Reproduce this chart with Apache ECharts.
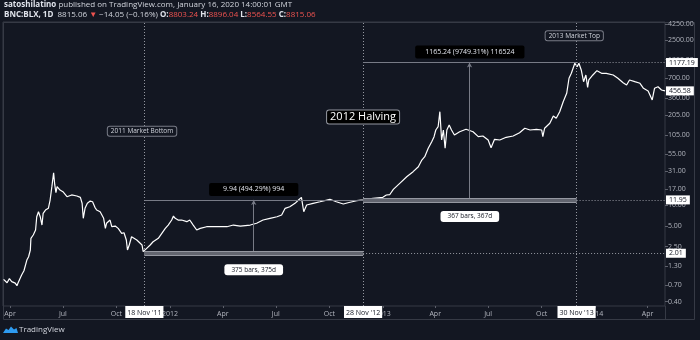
<!DOCTYPE html>
<html><head><meta charset="utf-8">
<script src="https://cdn.jsdelivr.net/npm/echarts@6/dist/echarts.min.js"></script>
<style>html,body{margin:0;padding:0;background:#131722;}#c{width:700px;height:340px;}</style>
</head><body><div id="c"></div>
<script>
const dates = ['2011-03-21','2011-03-27','2011-03-31','2011-04-04','2011-04-10','2011-04-13','2011-04-15','2011-04-18','2011-04-21','2011-04-25','2011-04-30','2011-05-03','2011-05-06','2011-05-07','2011-05-11','2011-05-15','2011-05-17','2011-05-20','2011-05-23','2011-05-26','2011-05-28','2011-06-01','2011-06-06','2011-06-09','2011-06-12','2011-06-15','2011-06-17','2011-06-19','2011-06-21','2011-06-26','2011-07-01','2011-07-08','2011-07-16','2011-07-25','2011-07-31','2011-08-03','2011-08-05','2011-08-08','2011-08-12','2011-08-17','2011-08-21','2011-08-25','2011-08-28','2011-09-03','2011-09-09','2011-09-12','2011-09-14','2011-09-20','2011-09-23','2011-09-29','2011-10-04','2011-10-10','2011-10-14','2011-10-18','2011-10-20','2011-10-23','2011-10-27','2011-10-30','2011-11-05','2011-11-08','2011-11-14','2011-11-16','2011-11-18','2011-11-22','2011-11-28','2011-12-03','2011-12-12','2011-12-18','2011-12-24','2011-12-29','2012-01-04','2012-01-07','2012-01-10','2012-01-13','2012-01-15','2012-01-21','2012-01-30','2012-02-04','2012-02-10','2012-02-16','2012-02-22','2012-03-04','2012-03-21','2012-04-08','2012-04-19','2012-05-01','2012-05-18','2012-05-29','2012-06-09','2012-06-21','2012-07-03','2012-07-11','2012-07-17','2012-07-25','2012-08-03','2012-08-09','2012-08-14','2012-08-18','2012-08-23','2012-09-03','2012-09-15','2012-10-02','2012-10-13','2012-10-25','2012-11-02','2012-11-17','2012-11-28','2012-12-15','2013-01-01','2013-01-07','2013-01-13','2013-01-19','2013-01-30','2013-02-11','2013-02-22','2013-03-03','2013-03-09','2013-03-14','2013-03-20','2013-03-26','2013-03-30','2013-04-02','2013-04-06','2013-04-09','2013-04-12','2013-04-15','2013-04-18','2013-04-21','2013-04-25','2013-04-29','2013-05-04','2013-05-13','2013-05-24','2013-06-05','2013-06-14','2013-06-22','2013-07-01','2013-07-06','2013-07-12','2013-07-21','2013-08-01','2013-08-13','2013-08-24','2013-09-02','2013-09-11','2013-09-22','2013-10-01','2013-10-03','2013-10-06','2013-10-15','2013-10-21','2013-10-26','2013-11-01','2013-11-07','2013-11-13','2013-11-17','2013-11-21','2013-11-27','2013-11-30','2013-12-01','2013-12-04','2013-12-08','2013-12-12','2013-12-16','2013-12-19','2013-12-21','2013-12-28','2014-01-04','2014-01-12','2014-01-20','2014-02-01','2014-02-09','2014-02-18','2014-02-24','2014-03-01','2014-03-10','2014-03-19','2014-03-25','2014-04-02','2014-04-09','2014-04-13','2014-04-19','2014-04-25','2014-05-01'];
const prices = [0.84,0.75,0.86,0.78,0.74,0.68,0.75,0.74,0.97,1.12,1.60,1.79,2.24,3.31,3.70,4.37,6.81,8.05,6.81,5.16,7.63,8.52,9.02,11.9,18.6,29.6,19.7,15.2,18.6,16.6,15.7,13.3,14.1,13.6,13.0,10.7,6.46,9.02,10.7,11.5,11.25,9.33,8.52,8.05,6.46,4.62,5.47,6.10,4.88,4.99,4.62,3.91,3.99,3.13,2.24,2.65,3.49,3.70,3.13,2.95,2.65,2.12,2.01,2.37,2.65,2.95,3.31,3.91,4.62,5.16,6.10,6.97,6.46,6.68,6.10,6.10,5.77,6.10,5.16,4.37,4.62,4.88,4.88,4.88,5.16,4.99,5.16,5.47,6.10,6.46,6.81,7.21,9.02,9.52,10.66,11.91,13.03,8.05,10.07,10.66,11.25,12.19,11.25,10.41,10.88,11.63,11.95,12.60,13.03,14.07,14.3,17.0,20.8,25.9,30.7,36.2,45.3,50.6,67.0,83.6,98.8,123.6,137.9,227.8,88.4,123.6,67.0,123.6,146.0,123.6,104.5,116.7,126.5,116.7,98.8,101.1,88.4,68.4,90.5,88.4,96.8,101.1,112.9,130.8,123.6,126.5,123.6,98.8,130.8,154.5,197.2,182.6,227.8,318.1,421.0,695.5,821.6,1148,1177.19,1024,1148,917.6,620.6,776.2,514.6,657.0,776.2,896.3,821.6,821.6,776.2,695.5,600.2,555.6,657.0,620.6,588.4,497.7,454.8,336.7,497.7,525.0,470.2,456.58];

const timeTicks = ['2011-04-01','2011-07-01','2011-10-01','2012-01-01','2012-04-01','2012-07-01','2012-10-01','2013-01-01','2013-04-01','2013-07-01','2013-10-01','2014-01-01','2014-04-01'];
const monthNames = ['Jan','Feb','Mar','Apr','May','Jun','Jul','Aug','Sep','Oct','Nov','Dec'];
const priceTicks = [0.4,0.7,1.3,2.5,5,10,17,31,55,105,205,360,700,1300,2500,4250];

const markerDates = ['2011-11-18','2012-11-28','2013-11-30'];
const markerLabels = ["18 Nov '11","28 Nov '12","30 Nov '13"];
const markerPrices = [2.01, 11.95, 1177.19];
const lastPrice = 456.58;
const rulerMid = ['2012-05-24','2013-05-30'];
const rulerChange = ['9.94 (494.29%) 994','1165.24 (9749.31%) 116524'];
const rulerSpan = ['375 bars, 375d','367 bars, 367d'];
const noteText = ['2011 Market Bottom','2012 Halving','2013 Market Top'];
const noteDate = ['2011-11-14','2012-11-28','2013-11-26'];
const notePrice = [118, 190, 2880];

const FONT = 'Open Sans';
const t = s => { const p = s.split('-').map(Number); return Date.UTC(p[0], p[1]-1, p[2]); };
const X_MIN = t('2011-03-20'), X_MAX = t('2014-05-01');
const Y_MIN = 0.345, Y_MAX = 4560;
const grey = '#787b86';

function seg(x1,y1,x2,y2,opts,endOpts){
  return [Object.assign({coord:[x1,y1]}, opts), Object.assign({coord:[x2,y2]}, endOpts||{})];
}
const whiteBox = {backgroundColor:'#ffffff', color:'#131722', fontFamily:FONT};

const mlData = [];
markerDates.forEach((d,i)=>{
  mlData.push({xAxis:t(d), lineStyle:{color:'#9598a1', type:[1,2], width:1},
    label:Object.assign({show:true, position:'start', distance:0, formatter:markerLabels[i], fontSize:7, padding:[3,2,2,2]}, whiteBox)});
});
for (let i=0;i<2;i++){
  const x1=t(markerDates[i]), x2=t(markerDates[i+1]), lo=markerPrices[i], hi=markerPrices[i+1], mid=t(rulerMid[i]);
  mlData.push(seg(x1,hi,x2,hi,{lineStyle:{color:grey,width:1,type:'solid'},
    label:{show:true, position:'insideMiddleTop', distance:4, formatter:rulerChange[i], backgroundColor:'#000000', color:'#e0e3eb', fontFamily:FONT, fontSize:7, padding:[3,i===0?14:10,3,i===0?14:10], borderRadius:2}}));
  mlData.push(seg(mid,lo,mid,hi,{lineStyle:{color:grey,width:1,type:'solid'}, label:{show:false}},{symbol:'arrow', symbolSize:[4,5]}));
  mlData.push(seg(x1,lo,x2,lo,{lineStyle:{color:'#9598a1',width:5,type:'solid'}, label:{show:false}}));
  mlData.push(seg(x1,lo,x2,lo,{lineStyle:{color:'#62656f',width:3,type:'solid'},
    label:Object.assign({show:true, position:'insideMiddleBottom', distance:11, formatter:rulerSpan[i], fontSize:6.5, padding:[2,7], borderRadius:3}, whiteBox)}));
}
const levelStarts = [markerDates[1], markerDates[2], markerDates[2]];
markerPrices.forEach((p,i)=>{
  mlData.push(seg(t(levelStarts[i]),p,X_MAX,p,{lineStyle:{color:'#9598a1',type:[1,2],width:1},
    label:Object.assign({show:true, position:'end', distance:1, formatter:p.toFixed(2), fontSize:7, padding:[1,3]}, whiteBox)}));
});
mlData.push({yAxis:lastPrice, lineStyle:{color:'rgba(0,0,0,0)', width:1}, label:Object.assign({show:true, position:'end', distance:1, formatter:lastPrice.toFixed(2), fontSize:7, padding:[1,3]}, whiteBox)});

const mpData = noteText.map((s,i)=>({
  coord:[t(noteDate[i]), notePrice[i]], symbol:'circle', symbolSize:0,
  label: i===1 ?
    {show:true, position:'inside', formatter:s, color:'#ffffff', fontFamily:FONT, fontSize:11, backgroundColor:'#000000', borderColor:'#9598a1', borderWidth:1, padding:[1,3], borderRadius:2} :
    {show:true, position:'inside', formatter:s, color:'#d1d4dc', fontFamily:FONT, fontSize:6.5, backgroundColor:'#131722', borderColor:'#787b86', borderWidth:1, padding:[1,3], borderRadius:2}
}));

const chart = echarts.init(document.getElementById('c'), null, {renderer:'canvas'});
chart.setOption({
  backgroundColor:'#131722',
  animation:false,
  grid:{left:3,right:35,top:22,bottom:34,show:true,borderColor:'#363a45',borderWidth:1,backgroundColor:'transparent'},
  xAxis:{type:'value', min:X_MIN, max:X_MAX, scale:true,
    axisLine:{show:false}, splitLine:{show:false},
    axisTick:{show:true, length:2, lineStyle:{color:'#5d606b'}, customValues:timeTicks.map(t)},
    axisLabel:{customValues:timeTicks.map(t), fontSize:7, color:'#b2b5be', fontFamily:FONT, margin:4,
      formatter:(v)=>{const d=new Date(v); const m=d.getUTCMonth(); return m===0? String(d.getUTCFullYear()) : monthNames[m];}}},
  yAxis:{type:'log', position:'right', min:Y_MIN, max:Y_MAX,
    axisLine:{show:false}, splitLine:{show:false},
    axisTick:{show:true, length:3, lineStyle:{color:'#5d606b'}, customValues:priceTicks},
    axisLabel:{customValues:priceTicks, fontSize:7, color:'#b2b5be', fontFamily:FONT, margin:3,
      formatter:(v)=>Number(v).toFixed(2)}},
  graphic:[
    {type:'rect', shape:{x:3.5,y:22.5,width:691,height:297}, style:{fill:'none', stroke:'#363a45', lineWidth:1}, silent:true},
    {type:'line', shape:{x1:665.5,y1:306,x2:665.5,y2:320}, style:{stroke:'#363a45', lineWidth:1}, silent:true},
    {type:'text', left:4, top:1, silent:true, style:{text:'{b|satoshilatino} published on TradingView.com, January 16, 2020 14:00:01 GMT', fill:'#d1d4dc', fontSize:8, fontFamily:FONT,
      rich:{b:{fontWeight:'bold', fill:'#e0e3eb', fontSize:8, fontFamily:FONT}}}},
    {type:'text', left:4, top:11, silent:true, style:{text:'{b|BNC:BLX, 1D}  8815.06 {r|\u25BC} \u221214.05 (\u22120.16%) {b|O:}{r|8803.24} {b|H:}{r|8896.04} {b|L:}{r|8564.55} {b|C:}{r|8815.06}', fill:'#d1d4dc', fontSize:8, fontFamily:FONT,
      rich:{b:{fontWeight:'bold', fill:'#e0e3eb', fontSize:8, fontFamily:FONT}, r:{fill:'#ef5350', fontSize:8, fontFamily:FONT}}}},
    {type:'polygon', silent:true, shape:{points:[[3,333],[6,328.5],[8.5,330],[11,326.5],[14,329.5],[16.5,328],[18,333]]}, style:{fill:'#2e9bf0'}},
    {type:'text', left:19, top:325.5, silent:true, style:{text:'TradingView', fill:'#d1d4dc', fontSize:8, fontFamily:FONT}}
  ],
  series:[{
    type:'line', data:dates.map((d,i)=>[t(d), prices[i]]), showSymbol:false, symbol:'none', clip:false,
    lineStyle:{color:'#ffffff', width:1.2}, z:3,
    markLine:{silent:true, symbol:['none','none'], animation:false, data:mlData},
    markPoint:{silent:true, animation:false, data:mpData}
  }]
});
</script></body></html>
